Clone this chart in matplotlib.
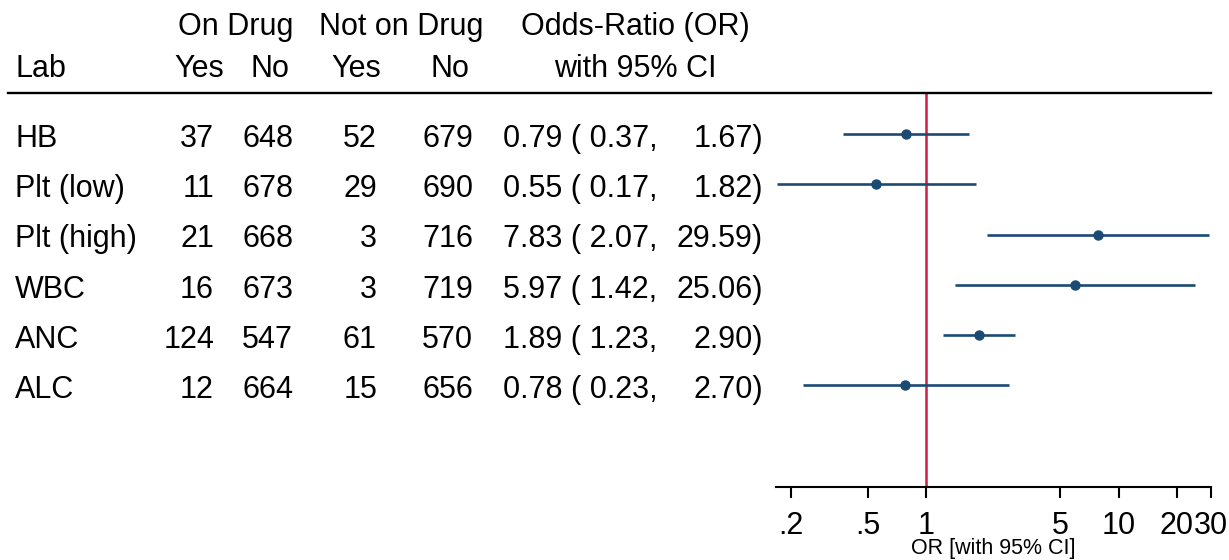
import matplotlib
matplotlib.use("Agg")
import matplotlib.pyplot as plt
import matplotlib.transforms as mtransforms
from matplotlib.lines import Line2D

# ---------------- data ----------------
labs = ["HB", "Plt (low)", "Plt (high)", "WBC", "ANC", "ALC"]
on_yes = [37, 11, 21, 16, 124, 12]
on_no = [648, 678, 668, 673, 547, 664]
off_yes = [52, 29, 3, 3, 61, 15]
off_no = [679, 690, 716, 719, 570, 656]
odds = [0.79, 0.55, 7.83, 5.97, 1.89, 0.78]
ci_lo = [0.37, 0.17, 2.07, 1.42, 1.23, 0.23]
ci_hi = [1.67, 1.82, 29.59, 25.06, 2.90, 2.70]
tick_vals = [0.2, 0.5, 1, 5, 10, 20, 30]
tick_labels = [".2", ".5", "1", "5", "10", "20", "30"]

# ---------------- style ----------------
W, H, DPI = 1229, 560, 100
plt.rcParams['font.family'] = ['Liberation Sans', 'DejaVu Sans']
FS = 22
BLUE = '#1b4a73'
RED = '#cc1f45'

fig = plt.figure(figsize=(W / DPI, H / DPI), dpi=DPI)

# axes in pixel geometry
ax_left_px, ax_right_px = 776.4, 1210.5
ax_top_px, ax_bot_px = 93, 487
ax = fig.add_axes([ax_left_px / W, (H - ax_bot_px) / H,
                   (ax_right_px - ax_left_px) / W, (ax_bot_px - ax_top_px) / H])

rows = list(range(len(labs)))
ax.set_xscale('log')
ax.set_xlim(0.168, 30)
ax.set_ylim(7.02, -0.82)

ax.axvline(1, color=RED, lw=1.8, zorder=1)
for i in rows:
    ax.plot([ci_lo[i], ci_hi[i]], [i, i], color=BLUE, lw=1.9, solid_capstyle='butt', zorder=2)
ax.plot(odds, rows, 'o', color=BLUE, ms=6.5, zorder=3)

for s in ['top', 'right', 'left']:
    ax.spines[s].set_visible(False)
ax.spines['bottom'].set_linewidth(1.5)
ax.set_yticks([])
ax.set_xticks(tick_vals)
ax.set_xticklabels(tick_labels, fontsize=FS)
ax.xaxis.set_minor_locator(matplotlib.ticker.NullLocator())
ax.tick_params(axis='x', direction='out', length=8, width=1.5, pad=9)
ax.set_xlabel("OR [with 95% CI]", fontsize=15.5, labelpad=-2)

# top rule across full table
top_tr = mtransforms.blended_transform_factory(fig.transFigure, ax.transAxes)
fig.add_artist(Line2D([8 / W, 1211 / W], [1, 1], transform=top_tr, color='black', lw=1.7))

# header text (pixel positions)
def ftxt(x, y, s, ha):
    fig.text(x / W, 1 - y / H, s, ha=ha, va='baseline', fontsize=FS)

ftxt(236, 35, "On Drug", 'center')
ftxt(401.5, 35, "Not on Drug", 'center')
ftxt(635, 35, "Odds-Ratio (OR)", 'center')
ftxt(15, 77, "Lab", 'left')
ftxt(199, 77, "Yes", 'center')
ftxt(270, 77, "No", 'center')
ftxt(356.5, 77, "Yes", 'center')
ftxt(450, 77, "No", 'center')
ftxt(635.5, 77, "with 95% CI", 'center')

# row text: x in figure px, y in data rows, baseline shifted down
row_tr = mtransforms.blended_transform_factory(fig.transFigure, ax.transData) + \
    mtransforms.ScaledTranslation(0, -12.7 / DPI, fig.dpi_scale_trans)

def rtxt(x, i, s, ha):
    fig.text(x / W, i, s, ha=ha, va='baseline', fontsize=FS, transform=row_tr)

for i in rows:
    rtxt(15, i, labs[i], 'left')
    rtxt(214, i, f"{on_yes[i]}", 'right')
    rtxt(293, i, f"{on_no[i]}", 'right')
    rtxt(377, i, f"{off_yes[i]}", 'right')
    rtxt(473, i, f"{off_no[i]}", 'right')
    rtxt(503, i, f"{odds[i]:.2f} ( {ci_lo[i]:.2f},", 'left')
    rtxt(763, i, f"{ci_hi[i]:.2f})", 'right')

fig.savefig("out.png", dpi=DPI)
